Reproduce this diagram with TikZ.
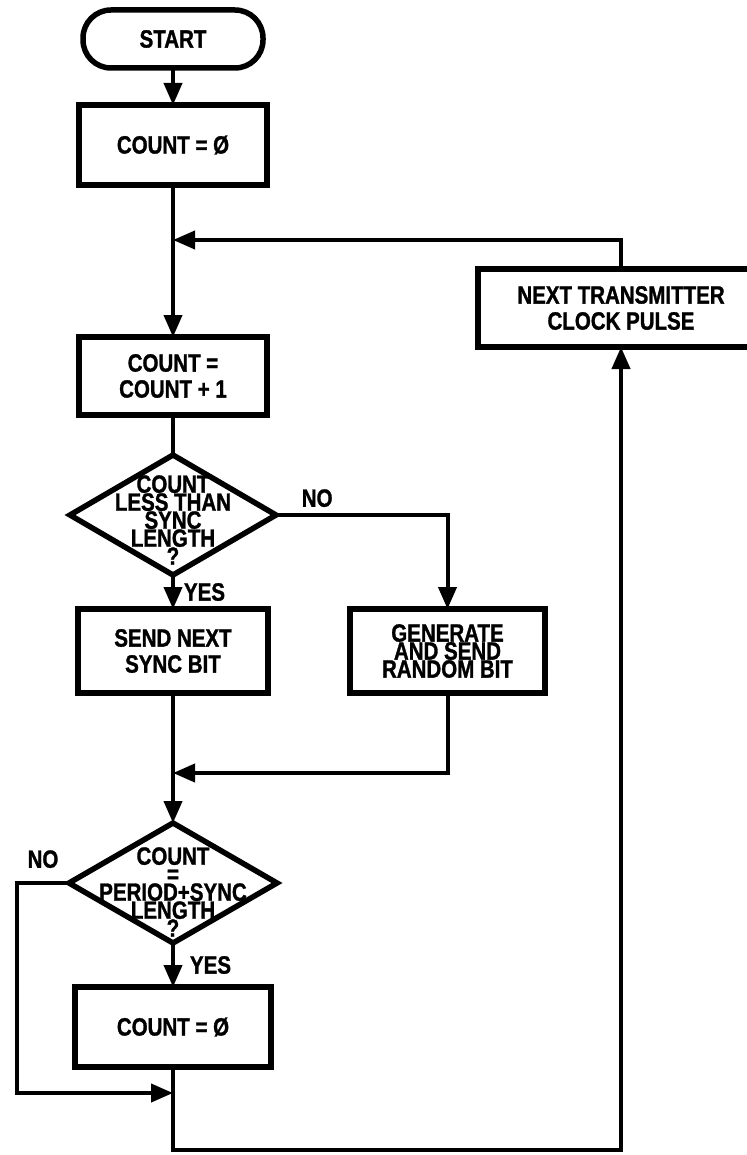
\documentclass[tikz,border=0pt]{standalone}
\usepackage{fontspec}
\newfontfamily\flowfont[FakeStretch=0.82, BoldFeatures={FakeBold=1.2}]{Liberation Sans}
\newcommand\boxfont{\flowfont\bfseries\fontsize{25}{26}\selectfont}
\newcommand\tightfont{\flowfont\bfseries\fontsize{25}{18}\selectfont}
\usetikzlibrary{arrows.meta, calc, positioning, shapes.geometric}

\begin{document}
\begin{tikzpicture}[
            x=1pt, y=1pt,
            box/.style={rectangle, draw=black, line width=5.5pt, outer sep=0pt,
            minimum width=188pt, minimum height=80pt, inner sep=0pt,
            font=\boxfont, align=center},
            term/.style={box, rounded corners=28pt,
            minimum width=180pt, minimum height=58pt},
            decision/.style={diamond, draw=black, line width=5.5pt, outer sep=0pt,
            minimum width=206pt, minimum height=120pt, inner sep=0pt},
            dtext/.style={font=\tightfont, align=center, inner sep=0pt},
            flow/.style={draw, line width=4pt, -{Triangle[length=22pt, width=18pt]}},
            conn/.style={draw, line width=4pt},
            lbl/.style={font=\boxfont, inner sep=1pt}
        ]
            \useasboundingbox (0,0) rectangle (746,-1155);

% ----- nodes (main column) -----
            \node[term] (start) at (173,-39) {START};
            \node[box, below=37pt of start] (cnt0) {COUNT = Ø};
            \node[box, below=152pt of cnt0, minimum height=78pt] (inc) {COUNT =\\COUNT + 1};
            \node[decision, below=40pt of inc] (less) {};
            \node[dtext, yshift=-5pt] at (less) {COUNT\\LESS THAN\\SYNC\\LENGTH\\?};
            \node[box, below=34pt of less, minimum width=190pt, minimum height=84pt] (sync) {SEND NEXT\\SYNC BIT};
            \node[decision, below=130pt of sync, minimum width=208pt] (period) {};
            \node[dtext, yshift=-9pt] at (period) {COUNT\\=\\PERIOD+SYNC\\LENGTH\\?};
            \node[box, below=44pt of period, minimum width=196pt] (cnt1) {COUNT = Ø};

% ----- nodes (right side) -----
            \node[box, right=82pt of sync, minimum width=195pt, minimum height=84pt,
                  font=\tightfont] (rand) {GENERATE\\AND SEND\\RANDOM BIT};
            \node[box, minimum width=286pt, minimum height=78pt] (clock) at (621,-308)
                  {NEXT TRANSMITTER\\CLOCK PULSE};

% ----- joints -----
            \coordinate (j1) at (173,-240);
            \coordinate (j2) at (173,-773);
            \coordinate (j3) at (173,-1093);
            \coordinate (lft) at (17,-1093);
            \coordinate (btm) at (173,-1150);

% ----- edges -----
            \draw[flow] (start) -- (cnt0);
            \draw[flow] (cnt0) -- (inc);
            \draw[flow] (clock.north) |- (j1);
            \draw[conn] (inc) -- (less);
            \draw[flow] (less) -- node[lbl, right=8pt] {YES} (sync);
            \draw[flow] (less.east) -| node[lbl, pos=0.12, above=5pt] {NO} (rand.north);
            \draw[flow] (sync) -- (period);
            \draw[flow] (rand.south) |- (j2);
            \draw[flow] (period) -- node[lbl, right=14pt] {YES} (cnt1);
            \draw[flow] (period.west) -| node[lbl, pos=0.25, above=12pt] {NO} (lft) -- (j3);
            \draw[flow] (cnt1.south) -- (btm) -| (clock.south);

        \end{tikzpicture}
\end{document}
